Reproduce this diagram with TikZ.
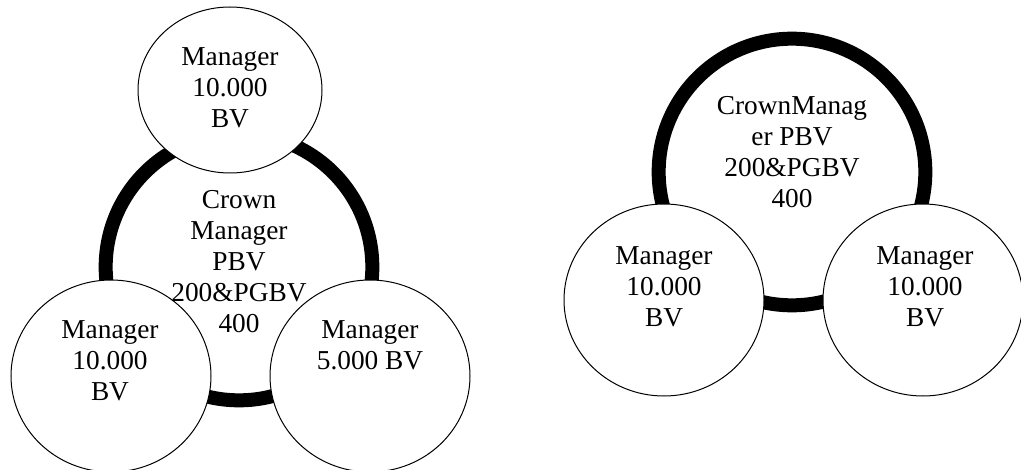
\documentclass[tikz,border=0pt]{standalone}
\usepackage{fontspec}
\setmainfont{Liberation Serif}
\usetikzlibrary{shapes.geometric}

\begin{document}
\begin{tikzpicture}[x=0.75pt,y=-0.75pt]
\tikzstyle{crown}=[shape=circle,draw,line width=10.5pt,minimum size=200pt,inner sep=0pt]
\tikzstyle{mgr}=[shape=ellipse,draw,fill=white,line width=0.75pt,inner sep=0pt,minimum width=150pt,minimum height=144pt]
\tikzstyle{txt}=[align=center,inner sep=0pt,font=\fontsize{20.5}{23.25}\selectfont]

\useasboundingbox (0,0) rectangle (1021,470);

% left group
\node[crown] (cl) at (239,267) {};
\node[mgr,minimum width=138pt,minimum height=124.5pt] (top) at (230,90) {};
\node[mgr] (bl) at (111,376) {};
\node[mgr] (br) at (370,376) {};

\node[txt] (topt) at (230,88) {Manager\\10.000\\BV};
\node[txt] (clt) at (239,262) {Crown\\Manager\\PBV\\200\&PGBV\\400};
\node[txt,anchor=north] (blt) at (110,320) {Manager\\10.000\\BV};
\node[txt,anchor=north] (brt) at (370,320) {Manager\\5.000 BV};

% right group
\node[crown] (cr) at (792,172) {};
\node[mgr] (rl) at (664,300) {};
\node[mgr] (rr) at (923,300) {};

\node[txt] (crt) at (792,152) {CrownManag\\er PBV\\200\&PGBV\\400};
\node[txt] (rlt) at (664,287) {Manager\\10.000\\BV};
\node[txt] (rrt) at (925,287) {Manager\\10.000\\BV};
\end{tikzpicture}
\end{document}
